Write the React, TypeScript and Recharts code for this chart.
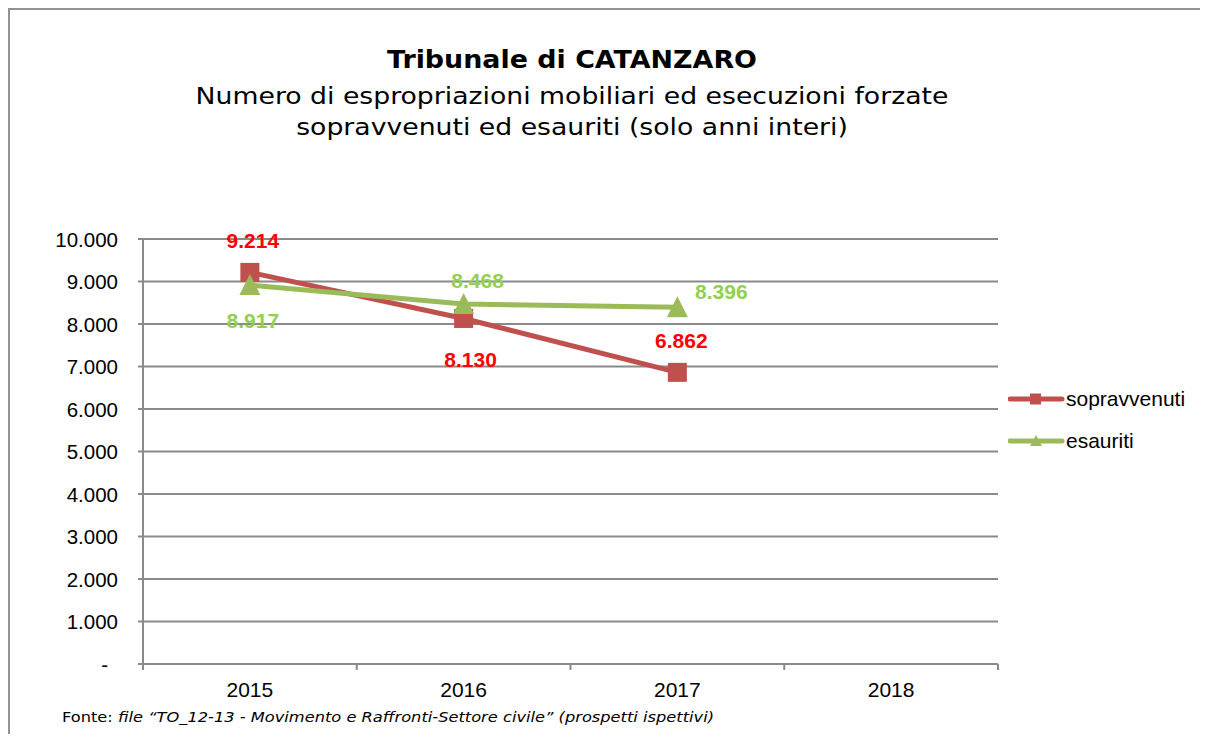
import React from 'react';
import { LineChart, Line, XAxis, YAxis, CartesianGrid, Legend, LabelList } from 'recharts';

const years = ['2015', '2016', '2017', '2018'];
const sopravvenuti: (number | null)[] = [9214, 8130, 6862, null];
const esauriti: (number | null)[] = [8917, 8468, 8396, null];
const yTicks = [0, 1000, 2000, 3000, 4000, 5000, 6000, 7000, 8000, 9000, 10000];
const edgeTicks = [0, 0.5, 1, 1.5, 2, 2.5, 3, 3.5, 4];
const seriesOrder = ['sopravvenuti', 'esauriti'];

const RED = '#C0504D';
const GREEN = '#9BBB59';
const RED_LABEL = '#FF0000';
const GREEN_LABEL = '#92D050';
const GRID = '#8a8a8a';
const ARIAL = "'Liberation Sans', Arial, sans-serif";
const VERDANA = "'DejaVu Sans', Verdana, sans-serif";

const sopLabelOffsets = [
  { dx: 3, dy: -32 },
  { dx: 7, dy: 41 },
  { dx: 4, dy: -32 },
];
const esaLabelOffsets = [
  { dx: 3, dy: 35 },
  { dx: 14, dy: -24 },
  { dx: 44, dy: -16 },
];

const data = years.map((y, i) => ({
  pos: i + 0.5,
  year: y,
  sopravvenuti: sopravvenuti[i],
  esauriti: esauriti[i],
}));

const fmt = (v: number) => String(v).replace(/\B(?=(\d{3})+(?!\d))/g, '.');

const SquareDot = (props: any) => {
  const { cx, cy } = props;
  if (cx == null || cy == null || props.value == null) return <g />;
  return <rect x={cx - 9.5} y={cy - 9.5} width={19} height={19} fill={RED} />;
};

const TriangleDot = (props: any) => {
  const { cx, cy } = props;
  if (cx == null || cy == null || props.value == null) return <g />;
  return <polygon points={`${cx},${cy - 11} ${cx - 10.5},${cy + 10} ${cx + 10.5},${cy + 10}`} fill={GREEN} />;
};

const makeLabel = (offsets: { dx: number; dy: number }[], color: string) => (props: any) => {
  const { x, y, value, index } = props;
  if (value == null) return null;
  const o = offsets[index] || { dx: 0, dy: 0 };
  return (
    <text
      x={x + o.dx}
      y={y + o.dy}
      textAnchor="middle"
      dominantBaseline="central"
      fill={color}
      fontFamily={ARIAL}
      fontWeight="bold"
      fontSize={21}
    >
      {fmt(value)}
    </text>
  );
};

const XTick = (props: any) => {
  const { x, y, payload } = props;
  const v = payload.value;
  if (Number.isInteger(v)) {
    return <line x1={x} x2={x} y1={y} y2={y + 6} stroke={GRID} strokeWidth={2} />;
  }
  const label = years[Math.floor(v)];
  return (
    <text x={x} y={y + 25} textAnchor="middle" dominantBaseline="central" fill="#000" fontFamily={ARIAL} fontSize={21}>
      {label}
    </text>
  );
};

const YTick = (props: any) => {
  const { x, y, payload } = props;
  const v = payload.value;
  return (
    <text
      x={v === 0 ? x - 10 : x}
      y={y}
      textAnchor="end"
      dominantBaseline="central"
      fill="#000"
      fontFamily={ARIAL}
      fontSize={20.5}
    >
      {v === 0 ? '-' : fmt(v)}
    </text>
  );
};

const LegendContent = (props: any) => {
  const payload = [...(props.payload || [])].sort(
    (a: any, b: any) => seriesOrder.indexOf(a.dataKey) - seriesOrder.indexOf(b.dataKey)
  );
  return (
    <div>
      {payload.map((p: any) => {
        const isRed = p.dataKey === 'sopravvenuti';
        const color = isRed ? RED : GREEN;
        return (
          <div key={p.dataKey} style={{ height: 42, display: 'flex', alignItems: 'center' }}>
            <svg width={58} height={20} style={{ display: 'block' }}>
              <line x1={2} x2={54} y1={10} y2={10} stroke={color} strokeWidth={5} strokeLinecap="round" />
              {isRed ? (
                <rect x={22} y={4.5} width={11} height={11} fill={color} />
              ) : (
                <polygon points="28,4 22,15 34,15" fill={color} />
              )}
            </svg>
            <span style={{ fontFamily: ARIAL, fontSize: 21, color: '#000' }}>{p.value}</span>
          </div>
        );
      })}
    </div>
  );
};

const titleLine = (text: string, size: number, bold: boolean, top: number, sx: number) => (
  <div
    style={{
      position: 'absolute',
      left: 0,
      width: 1128,
      top,
      textAlign: 'center',
      fontFamily: VERDANA,
      fontSize: size,
      fontWeight: bold ? 'bold' : 'normal',
      color: '#000',
      lineHeight: '30px',
      whiteSpace: 'nowrap',
      transform: `scaleX(${sx})`,
      transformOrigin: '564px 0',
    }}
  >
    {text}
  </div>
);

export default function App() {
  return (
    <div style={{ position: 'relative', width: 1200, height: 726, overflow: 'hidden', background: '#fff' }}>
      <div
        style={{
          position: 'absolute',
          left: 0,
          top: 0,
          width: 1300,
          height: 900,
          border: '2px solid #939393',
          boxSizing: 'border-box',
        }}
      />
      {titleLine('Tribunale di CATANZARO', 24, true, 37, 1.12)}
      {titleLine('Numero di espropriazioni mobiliari ed esecuzioni forzate', 23, false, 73, 1.16)}
      {titleLine('sopravvenuti ed esauriti (solo anni interi)', 23, false, 104, 1.16)}
      <div style={{ position: 'absolute', left: 0, top: 0 }}>
        <LineChart width={1200} height={726} data={data} margin={{ top: 231, right: 10, bottom: 20, left: 0 }}>
          <CartesianGrid horizontal vertical={false} stroke={GRID} strokeWidth={2} />
          <XAxis
            dataKey="pos"
            type="number"
            domain={[0, 4]}
            ticks={edgeTicks}
            interval={0}
            tickLine={false}
            tickSize={0}
            tickMargin={0}
            height={50}
            axisLine={{ stroke: GRID, strokeWidth: 2 }}
            tick={<XTick />}
          />
          <YAxis
            type="number"
            domain={[0, 10000]}
            ticks={yTicks}
            interval={0}
            width={135}
            tickSize={5}
            tickMargin={20}
            tickLine={{ stroke: GRID, strokeWidth: 2 }}
            axisLine={{ stroke: GRID, strokeWidth: 2 }}
            tick={<YTick />}
          />
          <Legend
            layout="horizontal"
            verticalAlign="middle"
            align="right"
            wrapperStyle={{ left: 1000, top: 370, width: 200 }}
            content={<LegendContent />}
          />
          <Line
            dataKey="sopravvenuti"
            name="sopravvenuti"
            stroke={RED}
            strokeWidth={5}
            dot={<SquareDot />}
            activeDot={false}
            isAnimationActive={false}
          >
            <LabelList dataKey="sopravvenuti" content={makeLabel(sopLabelOffsets, RED_LABEL)} />
          </Line>
          <Line
            dataKey="esauriti"
            name="esauriti"
            stroke={GREEN}
            strokeWidth={5}
            dot={<TriangleDot />}
            activeDot={false}
            isAnimationActive={false}
          >
            <LabelList dataKey="esauriti" content={makeLabel(esaLabelOffsets, GREEN_LABEL)} />
          </Line>
        </LineChart>
      </div>
      <div
        style={{
          position: 'absolute',
          left: 54,
          top: 701,
          fontFamily: VERDANA,
          fontSize: 14,
          color: '#000',
          whiteSpace: 'nowrap',
          transform: 'scaleX(1.16)',
          transformOrigin: '0 0',
        }}
      >
        Fonte: <i>file “TO_12-13 - Movimento e Raffronti-Settore civile” (prospetti ispettivi)</i>
      </div>
    </div>
  );
}
